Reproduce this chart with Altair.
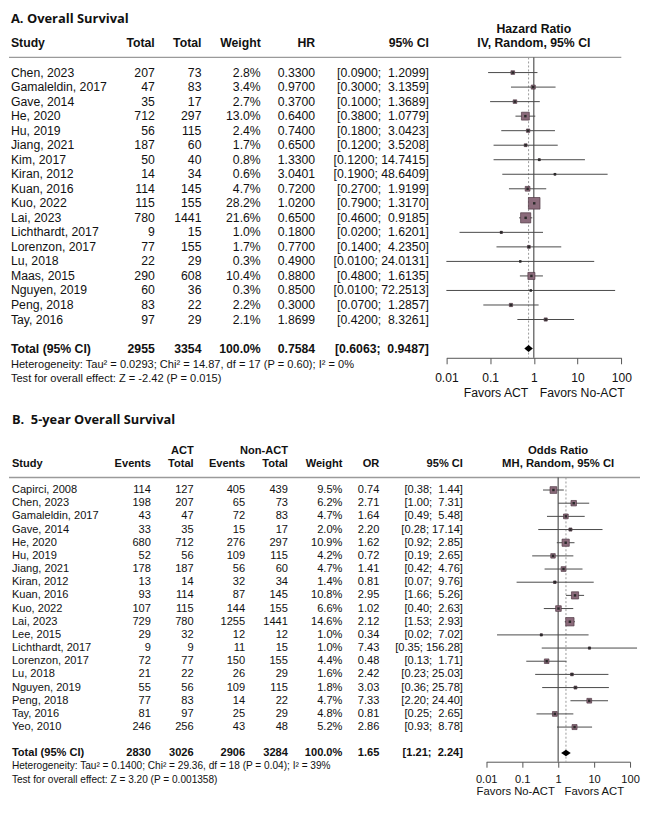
import altair as alt
import pandas as pd

# ---------------- Panel A data: Overall Survival (HR) ----------------
A_study = ["Chen, 2023", "Gamaleldin, 2017", "Gave, 2014", "He, 2020", "Hu, 2019",
           "Jiang, 2021", "Kim, 2017", "Kiran, 2012", "Kuan, 2016", "Kuo, 2022",
           "Lai, 2023", "Lichthardt, 2017", "Lorenzon, 2017", "Lu, 2018", "Maas, 2015",
           "Nguyen, 2019", "Peng, 2018", "Tay, 2016"]
A_total_act = [207, 47, 35, 712, 56, 187, 50, 14, 114, 115, 780, 9, 77, 22, 290, 60, 83, 97]
A_total_non = [73, 83, 17, 297, 115, 60, 40, 34, 145, 155, 1441, 15, 155, 29, 608, 36, 22, 29]
A_weight = [2.8, 3.4, 2.7, 13.0, 2.4, 1.7, 0.8, 0.6, 4.7, 28.2, 21.6, 1.0, 1.7, 0.3, 10.4, 0.3, 2.2, 2.1]
A_hr = [0.3300, 0.9700, 0.3700, 0.6400, 0.7400, 0.6500, 1.3300, 3.0401, 0.7200, 1.0200,
        0.6500, 0.1800, 0.7700, 0.4900, 0.8800, 0.8500, 0.3000, 1.8699]
A_lo = [0.0900, 0.3000, 0.1000, 0.3800, 0.1800, 0.1200, 0.1200, 0.1900, 0.2700, 0.7900,
        0.4600, 0.0200, 0.1400, 0.0100, 0.4800, 0.0100, 0.0700, 0.4200]
A_hi = [1.2099, 3.1359, 1.3689, 1.0779, 3.0423, 3.5208, 14.7415, 48.6409, 1.9199, 1.3170,
        0.9185, 1.6201, 4.2350, 24.0131, 1.6135, 72.2513, 1.2857, 8.3261]
A_totals = [2955, 3354]
A_pooled = [0.7584, 0.6063, 0.9487]  # estimate, lower, upper
A_headers = ["Study", "Total", "Total", "Weight", "HR", "95% CI"]
A_effect_hdr = ["Hazard Ratio", "IV, Random, 95% CI"]
A_favors = ["Favors ACT", "Favors No-ACT"]
A_het = "Heterogeneity: Tau\u00b2 = 0.0293; Chi\u00b2 = 14.87, df = 17 (P = 0.60); I\u00b2 = 0%"
A_test = "Test for overall effect: Z = -2.42 (P = 0.015)"
A_title = "A. Overall Survival"

# ---------------- Panel B data: 5-year Overall Survival (OR) ----------------
B_study = ["Capirci, 2008", "Chen, 2023", "Gamaleldin, 2017", "Gave, 2014", "He, 2020",
           "Hu, 2019", "Jiang, 2021", "Kiran, 2012", "Kuan, 2016", "Kuo, 2022", "Lai, 2023",
           "Lee, 2015", "Lichthardt, 2017", "Lorenzon, 2017", "Lu, 2018", "Nguyen, 2019",
           "Peng, 2018", "Tay, 2016", "Yeo, 2010"]
B_ev_act = [114, 198, 43, 33, 680, 52, 178, 13, 93, 107, 729, 29, 9, 72, 21, 55, 77, 81, 246]
B_tot_act = [127, 207, 47, 35, 712, 56, 187, 14, 114, 115, 780, 32, 9, 77, 22, 56, 83, 97, 256]
B_ev_non = [405, 65, 72, 15, 276, 109, 56, 32, 87, 144, 1255, 12, 11, 150, 26, 109, 14, 25, 43]
B_tot_non = [439, 73, 83, 17, 297, 115, 60, 34, 145, 155, 1441, 12, 15, 155, 29, 115, 22, 29, 48]
B_weight = [9.5, 6.2, 4.7, 2.0, 10.9, 4.2, 4.7, 1.4, 10.8, 6.6, 14.6, 1.0, 1.0, 4.4, 1.6, 1.8, 4.7, 4.8, 5.2]
B_or = [0.74, 2.71, 1.64, 2.20, 1.62, 0.72, 1.41, 0.81, 2.95, 1.02, 2.12, 0.34, 7.43, 0.48,
        2.42, 3.03, 7.33, 0.81, 2.86]
B_lo = [0.38, 1.00, 0.49, 0.28, 0.92, 0.19, 0.42, 0.07, 1.66, 0.40, 1.53, 0.02, 0.35, 0.13,
        0.23, 0.36, 2.20, 0.25, 0.93]
B_hi = [1.44, 7.31, 5.48, 17.14, 2.85, 2.65, 4.76, 9.76, 5.26, 2.63, 2.93, 7.02, 156.28, 1.71,
        25.03, 25.78, 24.40, 2.65, 8.78]
B_totals = [2830, 3026, 2906, 3284]
B_pooled = [1.65, 1.21, 2.24]
B_headers = ["Study", "Events", "Total", "Events", "Total", "Weight", "OR", "95% CI"]
B_group_hdr = ["ACT", "Non-ACT"]
B_effect_hdr = ["Odds Ratio", "MH, Random, 95% CI"]
B_favors = ["Favors No-ACT", "Favors ACT"]
B_het = "Heterogeneity: Tau\u00b2 = 0.1400; Chi\u00b2 = 29.36, df = 18 (P = 0.04); I\u00b2 = 39%"
B_test = "Test for overall effect: Z = 3.20 (P = 0.001358)"
B_title = "B.\u00a0 5-year Overall Survival"

TICKS = [0.01, 0.1, 1, 10, 100]

# ---------------- style / layout ----------------
FONT = "Liberation Sans"
TITLE_FONT = "Open Sans"
INK = "#111111"
LINE = "#4a4a4a"
SQ_FILL = "#8b6b7b"
SQ_EDGE = "#4f3844"
SX = 0.975   # horizontal compression (page margin)
SY = 0.965   # vertical compression (page margin)
SF = 0.975   # font compression
W = 633

NBSP = "\u00a0"


def ci_text(lo, hi, dec, width):
    hs = f"{hi:.{dec}f}"
    return f"[{lo:.{dec}f}; " + NBSP * max(0, width - len(hs)) + hs + "]"


def Y(field, ysc):
    return alt.Y(field, type="quantitative", scale=ysc, axis=None)


def text_layers(cells, xsc, ysc):
    df = pd.DataFrame(cells)
    out = []
    for (align, bold, font, size), g in df.groupby(["align", "bold", "font", "size"]):
        out.append(
            alt.Chart(g.reset_index(drop=True)).mark_text(
                align=align, baseline="middle", font=font, fontSize=float(size),
                fontWeight="bold" if bold else "normal", color=INK,
            ).encode(
                x=alt.X("col:Q", scale=xsc, axis=None),
                y=Y("row", ysc),
                text="text:N",
            )
        )
    return out


def forest_layers(df, pooled, pooled_row, hdr_line_row, axis_row, xsc, ysc, axis,
                  sq_area_per_pct, effect_hdr, effect_rows, favors, favors_row,
                  favors_dx, font_size, diamond_half):
    def X(f):
        return alt.X(f, type="quantitative", scale=xsc, axis=axis)

    layers = []
    ref = pd.DataFrame({"v": [1.0], "y": [hdr_line_row], "y2": [axis_row]})
    pool_ref = pd.DataFrame({"v": [pooled[0]], "y": [hdr_line_row], "y2": [axis_row]})
    layers.append(alt.Chart(pool_ref).mark_rule(color="#9a9a9a", strokeWidth=1,
                                                 strokeDash=[2, 2]).encode(
        x=X("v"), y=Y("y", ysc), y2="y2"))
    layers.append(alt.Chart(ref).mark_rule(color="#333333", strokeWidth=1).encode(
        x=X("v"), y=Y("y", ysc), y2="y2"))
    layers.append(alt.Chart(df).mark_rule(color=LINE, strokeWidth=1).encode(
        x=X("lo"), x2="hi", y=Y("row", ysc)))
    layers.append(alt.Chart(df).mark_square(filled=True, fill=SQ_FILL, stroke=SQ_EDGE,
                                            strokeWidth=0.7, opacity=1).encode(
        x=X("est"), y=Y("row", ysc),
        size=alt.Size("w:Q", scale=alt.Scale(domain=[0, 100], range=[0, sq_area_per_pct * 100]),
                      legend=None)))
    layers.append(alt.Chart(df).mark_square(filled=True, color="#2a2a2a", size=6,
                                            opacity=1).encode(
        x=X("est"), y=Y("row", ysc)))
    r = pooled_row
    dia = pd.DataFrame({"x": [pooled[1], pooled[0], pooled[2]],
                        "y": [r, r - diamond_half, r],
                        "y2": [r, r + diamond_half, r]})
    layers.append(alt.Chart(dia).mark_area(color="#000000", orient="vertical",
                                           opacity=1).encode(
        x=X("x"), y=Y("y", ysc), y2="y2"))
    hdr = pd.DataFrame({"v": [1.0, 1.0], "row": effect_rows, "text": effect_hdr})
    layers.append(alt.Chart(hdr).mark_text(align="center", baseline="middle", font=FONT,
                                           fontSize=font_size, fontWeight="bold",
                                           color=INK).encode(
        x=X("v"), y=Y("row", ysc), text="text:N"))
    fl = pd.DataFrame({"v": [1.0], "row": [favors_row], "text": [favors[0]]})
    fr = pd.DataFrame({"v": [1.0], "row": [favors_row], "text": [favors[1]]})
    layers.append(alt.Chart(fl).mark_text(align="right", baseline="middle", font=FONT,
                                          fontSize=font_size, color=INK,
                                          dx=favors_dx[0]).encode(
        x=X("v"), y=Y("row", ysc), text="text:N"))
    layers.append(alt.Chart(fr).mark_text(align="left", baseline="middle", font=FONT,
                                          fontSize=font_size, color=INK,
                                          dx=favors_dx[1]).encode(
        x=X("v"), y=Y("row", ysc), text="text:N"))
    return layers


def header_line(row, x_end, ysc):
    return alt.Chart(pd.DataFrame({"row": [row]})).mark_rule(
        color="#9a9a9a", strokeWidth=1.3).encode(
        x=alt.value(0), x2=alt.value(x_end), y=Y("row", ysc))


def axis_for(size, tick, pad):
    return alt.Axis(values=TICKS, format="~g", title=None, grid=False, orient="bottom",
                    domainColor="#555555", tickColor="#555555", domainWidth=1, tickWidth=1,
                    tickSize=tick, labelFont=FONT, labelFontSize=size, labelColor=INK,
                    labelPadding=pad, labelFlush=False, labelOverlap=False)


# ================= Panel A =================
A_row_h = 15.1 * SY
A_top, A_axis = -4.36, 19.635
A_H = (A_axis - A_top) * A_row_h
A_ysc = alt.Scale(domain=[A_top, A_axis], reverse=True, nice=False, zero=False)
A_cols = [v * SX for v in [2, 150, 198, 259, 315, 432]]
A_xsc = alt.Scale(domain=list(range(len(A_cols))), range=A_cols, nice=False, zero=False)
A_fsc = alt.Scale(type="log", domain=[0.01, 100], range=[450 * SX, 630 * SX], nice=False)
fsA = 12.6 * SF
A_cells = []
A_cells.append(dict(row=-3.72, col=0, text=A_title, align="left", bold=True,
                    font=TITLE_FONT, size=13.3 * SF))
for i, h in enumerate(A_headers):
    A_cells.append(dict(row=-2.03, col=i, text=h, align="left" if i == 0 else "right",
                        bold=True, font=FONT, size=fsA))
for k in range(len(A_study)):
    vals = [A_study[k], str(A_total_act[k]), str(A_total_non[k]), f"{A_weight[k]:.1f}%",
            f"{A_hr[k]:.4f}", ci_text(A_lo[k], A_hi[k], 4, 7)]
    for i, t in enumerate(vals):
        A_cells.append(dict(row=k, col=i, text=t, align="left" if i == 0 else "right",
                            bold=False, font=FONT, size=fsA))
A_tot_vals = ["Total (95% CI)", str(A_totals[0]), str(A_totals[1]), "100.0%",
              f"{A_pooled[0]:.4f}", ci_text(A_pooled[1], A_pooled[2], 4, 7)]
for i, t in enumerate(A_tot_vals):
    A_cells.append(dict(row=19, col=i, text=t, align="left" if i == 0 else "right",
                        bold=True, font=FONT, size=fsA))
A_cells.append(dict(row=20.15, col=0, text=A_het, align="left", bold=False, font=FONT, size=11.4 * SF))
A_cells.append(dict(row=21.08, col=0, text=A_test, align="left", bold=False, font=FONT, size=11.4 * SF))

A_df = pd.DataFrame({"row": list(range(len(A_study))), "est": A_hr, "lo": A_lo,
                     "hi": A_hi, "w": A_weight})
A_tbl = text_layers(A_cells, A_xsc, A_ysc) + [header_line(-1.04, 630 * SX, A_ysc)]
A_for = forest_layers(A_df, A_pooled, 19, -1.04, A_axis, A_fsc, A_ysc,
                      axis_for(12.4 * SF, 6, 8), 5.1 * SX * SY, A_effect_hdr, [-2.98, -2.03],
                      A_favors, 22.07, [-5.5, 6], 12.6 * SF, 0.24)
panelA = alt.layer(alt.layer(*A_tbl), alt.layer(*A_for)).resolve_scale(
    x="independent").properties(width=W, height=A_H)

# ================= Panel B =================
B_row_h = 13.69 * SY
B_top, B_axis = -6.377, 20.63
B_H = (B_axis - B_top) * B_row_h
B_ysc = alt.Scale(domain=[B_top, B_axis], reverse=True, nice=False, zero=False)
B_cols = [v * SX for v in [3, 146, 190, 243, 287, 343, 381, 467]]
B_xsc = alt.Scale(domain=list(range(len(B_cols))), range=B_cols, nice=False, zero=False)
B_fsc = alt.Scale(type="log", domain=[0.01, 100], range=[491 * SX, 639 * SX], nice=False)
fsB = 11.4 * SF
B_cells = []
B_cells.append(dict(row=-5.29, col=0, text=B_title, align="left", bold=True,
                    font=TITLE_FONT, size=13.2 * SF))
B_cells.append(dict(row=-3.0, col=2, text=B_group_hdr[0], align="right", bold=True,
                    font=FONT, size=fsB))
B_cells.append(dict(row=-3.0, col=4, text=B_group_hdr[1], align="right", bold=True,
                    font=FONT, size=fsB))
for i, h in enumerate(B_headers):
    B_cells.append(dict(row=-1.97, col=i, text=h, align="left" if i == 0 else "right",
                        bold=True, font=FONT, size=fsB))
for k in range(len(B_study)):
    vals = [B_study[k], str(B_ev_act[k]), str(B_tot_act[k]), str(B_ev_non[k]),
            str(B_tot_non[k]), f"{B_weight[k]:.1f}%", f"{B_or[k]:.2f}",
            ci_text(B_lo[k], B_hi[k], 2, 5)]
    for i, t in enumerate(vals):
        B_cells.append(dict(row=k, col=i, text=t, align="left" if i == 0 else "right",
                            bold=False, font=FONT, size=fsB))
B_tot_vals = ["Total (95% CI)", str(B_totals[0]), str(B_totals[1]), str(B_totals[2]),
              str(B_totals[3]), "100.0%", f"{B_pooled[0]:.2f}",
              ci_text(B_pooled[1], B_pooled[2], 2, 5)]
for i, t in enumerate(B_tot_vals):
    B_cells.append(dict(row=19.97, col=i, text=t, align="left" if i == 0 else "right",
                        bold=True, font=FONT, size=fsB))
B_cells.append(dict(row=20.99, col=0, text=B_het, align="left", bold=False, font=FONT, size=10.4 * SF))
B_cells.append(dict(row=22.0, col=0, text=B_test, align="left", bold=False, font=FONT, size=10.4 * SF))

B_df = pd.DataFrame({"row": list(range(len(B_study))), "est": B_or, "lo": B_lo,
                     "hi": B_hi, "w": B_weight})
B_tbl = text_layers(B_cells, B_xsc, B_ysc) + [header_line(-0.95, W, B_ysc)]
B_for = forest_layers(B_df, B_pooled, 19.97, -0.95, B_axis, B_fsc, B_ysc,
                      axis_for(11.4 * SF, 5.5, 6.5), 7.6 * SX * SY, B_effect_hdr, [-3.0, -1.97],
                      B_favors, 22.92, [-3.3, 6.5], 11.6 * SF, 0.25)
panelB = alt.layer(alt.layer(*B_tbl), alt.layer(*B_for)).resolve_scale(
    x="independent").properties(width=W, height=B_H)

chart = alt.vconcat(panelA, panelB, spacing=(412 - 362.2) * SY, bounds="flush").properties(
    padding=0
).configure_view(stroke=None)

chart.save("out.html", embed_options={"renderer": "svg", "actions": False})
